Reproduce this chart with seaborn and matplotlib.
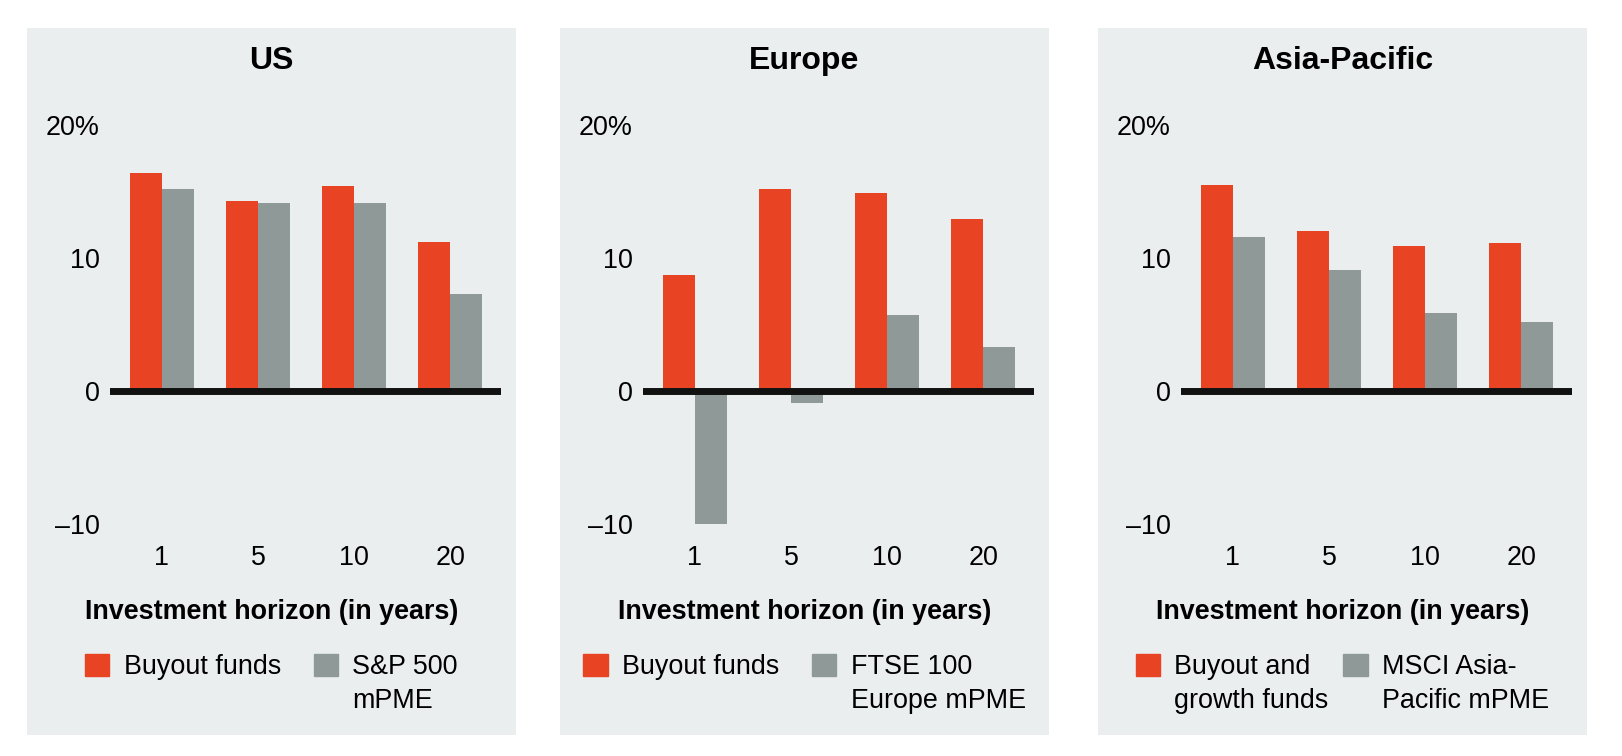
import matplotlib
matplotlib.use("Agg")
import matplotlib.pyplot as plt
import matplotlib.patches as mpatches
import seaborn as sns
import pandas as pd

# Data (annualised returns, %)
horizons = ["1", "5", "10", "20"]
regions = ["US", "Europe", "Asia-Pacific"]

us_buyout = [16.4, 14.3, 15.4, 11.2]
us_sp500 = [15.2, 14.1, 14.1, 7.3]

eu_buyout = [8.7, 15.2, 14.9, 12.9]
eu_ftse = [-10.1, -0.9, 5.7, 3.3]

ap_buyout = [15.5, 12.0, 10.9, 11.1]
ap_msci = [11.6, 9.1, 5.9, 5.2]

fund_labels = ["Buyout funds", "Buyout funds", "Buyout and\ngrowth funds"]
index_labels = ["S&P 500\nmPME", "FTSE 100\nEurope mPME", "MSCI Asia-\nPacific mPME"]

y_ticks = [-10, 0, 10, 20]
y_tick_labels = ["\u201310", "0", "10", "20%"]

red = "#E84322"
grey = "#8F9998"
panel_bg = "#EBEEEF"

sns.set_theme(style="white")
plt.rcParams["font.family"] = ["Liberation Sans", "DejaVu Sans"]

W, H = 1622, 756
fig = plt.figure(figsize=(W / 100, H / 100), dpi=100)

panel_left = [27, 560, 1098]
panel_w = 489
panel_top, panel_bottom = 28, 735
col_space = [1.2, 1.2, 0.55]

series = [(us_buyout, us_sp500), (eu_buyout, eu_ftse), (ap_buyout, ap_msci)]

for i, region in enumerate(regions):
    px = panel_left[i]
    # grey panel background
    fig.patches.append(mpatches.Rectangle(
        (px / W, 1 - panel_bottom / H), panel_w / W, (panel_bottom - panel_top) / H,
        transform=fig.transFigure, facecolor=panel_bg, edgecolor="none", zorder=-5))

    funds, index = series[i]
    df = pd.DataFrame({
        "horizon": horizons * 2,
        "value": funds + index,
        "series": [fund_labels[i]] * 4 + [index_labels[i]] * 4,
    })

    ax_left = px + 83
    ax_w = 391
    ax_top, ax_bottom = 125, 524
    ax = fig.add_axes([ax_left / W, 1 - ax_bottom / H, ax_w / W, (ax_bottom - ax_top) / H])
    ax.set_facecolor("none")
    ax.set_zorder(2)

    sns.barplot(data=df, x="horizon", y="value", hue="series", order=horizons,
                palette=[red, grey], width=0.67, linewidth=0, saturation=1,
                legend=False, ax=ax)

    ax.axhline(0, color="#111111", lw=5, zorder=5)
    ax.set_xlim(-0.54, 3.53)
    ax.set_ylim(-10, 20)
    ax.set_yticks(y_ticks)
    ax.set_yticklabels(y_tick_labels)
    ax.tick_params(axis="y", length=0, pad=7.5, labelsize=19.4, labelcolor="black")
    ax.tick_params(axis="x", length=0, pad=15, labelsize=19.4, labelcolor="black")
    ax.set_xlabel("")
    ax.set_ylabel("")
    sns.despine(ax=ax, left=True, bottom=True)

    cx = (px + panel_w / 2) / W
    fig.text(cx, 1 - 61 / H, region, ha="center", va="center",
             fontsize=23, fontweight="bold", color="black")
    fig.text(cx, 1 - 612 / H, "Investment horizon (in years)", ha="center", va="center",
             fontsize=19.4, fontweight="bold", color="black")

    handles = [mpatches.Patch(color=red, label=fund_labels[i]),
               mpatches.Patch(color=grey, label=index_labels[i])]
    leg = ax.legend(handles=handles, loc="upper center", bbox_to_anchor=(cx, 1 - 654 / H),
                    bbox_transform=fig.transFigure, ncol=2, frameon=False,
                    fontsize=19.4, handlelength=0.9, handleheight=0.9,
                    handletextpad=0.54, columnspacing=col_space[i], borderpad=0,
                    borderaxespad=0, labelspacing=0.3, labelcolor="black")
    for t in leg.get_texts():
        t.set_linespacing(1.4)
    # top-align handles and labels (legend key sits next to the first text line)
    leg._legend_handle_box.align = "top"
    for column in leg._legend_handle_box.get_children():
        for row in column.get_children():
            row.align = "top"

fig.savefig("out.png", dpi=100)
